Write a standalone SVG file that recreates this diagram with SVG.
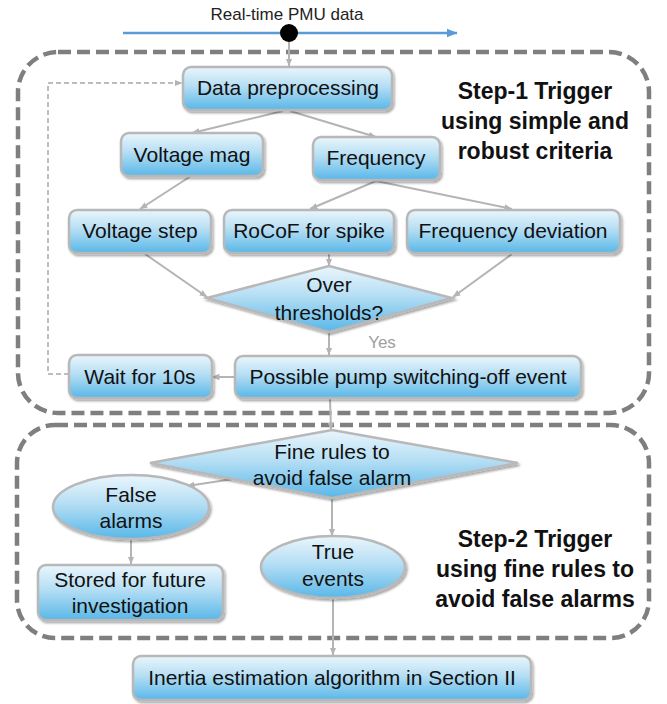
<svg xmlns="http://www.w3.org/2000/svg" width="667" height="704" viewBox="0 0 667 704">
<defs>
<linearGradient id="g" x1="0" y1="0" x2="0" y2="1">
<stop offset="0" stop-color="#eaf6fc"/>
<stop offset="0.45" stop-color="#b5def4"/>
<stop offset="1" stop-color="#58b7e8"/>
</linearGradient>
<filter id="sh" x="-10%" y="-10%" width="125%" height="135%">
<feDropShadow dx="1.5" dy="2" stdDeviation="1.2" flood-color="#000" flood-opacity="0.35"/>
</filter>
<marker id="ah" markerUnits="userSpaceOnUse" markerWidth="8" markerHeight="8" viewBox="0 0 8 8" refX="7.5" refY="4" orient="auto">
<path d="M0,0.8 L8,4 L0,7.2 Z" fill="#b4b4b4"/>
</marker>
<marker id="ab" markerUnits="userSpaceOnUse" markerWidth="11" markerHeight="10" viewBox="0 0 11 10" refX="10.5" refY="5" orient="auto">
<path d="M0,0.5 L11,5 L0,9.5 Z" fill="#5b9bd5"/>
</marker>
<style>
.node{fill:url(#g);stroke:#b8b8b8;stroke-width:2.5;filter:url(#sh)}
.t{font-family:"Liberation Sans",Arial,sans-serif;font-size:21px;fill:#111;text-anchor:middle}
.b{font-family:"Liberation Sans",Arial,sans-serif;font-size:23px;font-weight:bold;fill:#111;text-anchor:middle}
.c{stroke:#b4b4b4;stroke-width:2;fill:none;marker-end:url(#ah)}
.dash{fill:none;stroke:#7f7f7f;stroke-width:4.5;stroke-dasharray:13 6}
</style>
</defs>

<g id="frames">
<rect class="dash" x="18" y="52" width="631" height="361" rx="40"/>
<rect class="dash" x="17" y="425" width="632" height="213" rx="38"/>
</g>

<g id="input">
<text x="287" y="20" font-family="Liberation Sans, Arial, sans-serif" font-size="17" fill="#222" text-anchor="middle">Real-time PMU data</text>
<line x1="123" y1="33" x2="457" y2="33" stroke="#5b9bd5" stroke-width="2.5" marker-end="url(#ab)"/>
<circle cx="289" cy="33" r="9" fill="#000"/>
</g>

<g id="connectors">
<line class="c" x1="289" y1="42" x2="289" y2="66"/>
<line class="c" x1="283" y1="111" x2="192" y2="133"/>
<line class="c" x1="290" y1="111" x2="376" y2="137"/>
<line class="c" x1="191" y1="176" x2="140" y2="209"/>
<line class="c" x1="376" y1="181" x2="310" y2="209"/>
<line class="c" x1="376" y1="181" x2="512" y2="209"/>
<line class="c" x1="145" y1="254" x2="207" y2="297"/>
<line class="c" x1="329" y1="254" x2="329" y2="266"/>
<line class="c" x1="512" y1="254" x2="453" y2="297"/>
<line class="c" x1="329" y1="333" x2="329" y2="355"/>
<line class="c" x1="235" y1="377" x2="212" y2="377"/>
<line class="c" x1="330" y1="399" x2="331" y2="430"/>
<line class="c" x1="240" y1="478" x2="187" y2="486"/>
<line class="c" x1="332" y1="499" x2="332" y2="536"/>
<line class="c" x1="131" y1="540" x2="131" y2="564"/>
<line class="c" x1="333" y1="599" x2="333" y2="655"/>
<polyline points="69,374 48,374 48,83 182,83" fill="none" stroke="#a8a8a8" stroke-width="1.5" stroke-dasharray="5 3" marker-end="url(#ah)"/>
</g>

<g id="n-preproc">
<rect class="node" x="183" y="67" width="209" height="43" rx="8"/>
<text class="t" x="288" y="95">Data preprocessing</text>
</g>
<g id="n-vmag">
<rect class="node" x="121" y="133" width="142" height="43" rx="8"/>
<text class="t" x="192" y="162">Voltage mag</text>
</g>
<g id="n-freq">
<rect class="node" x="313" y="137" width="127" height="43" rx="8"/>
<text class="t" x="376" y="165">Frequency</text>
</g>
<g id="n-vstep">
<rect class="node" x="69" y="210" width="142" height="43" rx="8"/>
<text class="t" x="140" y="238">Voltage step</text>
</g>
<g id="n-rocof">
<rect class="node" x="224" y="210" width="170" height="43" rx="8"/>
<text class="t" x="309" y="238">RoCoF for spike</text>
</g>
<g id="n-fdev">
<rect class="node" x="407" y="210" width="213" height="43" rx="8"/>
<text class="t" x="513" y="238">Frequency deviation</text>
</g>
<g id="n-over">
<polygon class="node" points="207,298 329,266 452,298 329,332"/>
<text class="t" x="329" y="292">Over</text>
<text class="t" x="329" y="320">thresholds?</text>
</g>
<g id="lbl-yes">
<text x="382" y="348" font-family="Liberation Sans, Arial, sans-serif" font-size="17" fill="#a0a0a0" text-anchor="middle">Yes</text>
</g>
<g id="n-wait">
<rect class="node" x="69" y="355" width="143" height="43" rx="8"/>
<text class="t" x="140" y="384">Wait for 10s</text>
</g>
<g id="n-pump">
<rect class="node" x="235" y="356" width="346" height="42" rx="8"/>
<text class="t" x="408" y="384">Possible pump switching-off event</text>
</g>
<g id="step1">
<text class="b" x="535" y="99">Step-1 Trigger</text>
<text class="b" x="535" y="129">using simple and</text>
<text class="b" x="535" y="159">robust criteria</text>
</g>
<g id="n-fine">
<polygon class="node" points="150,463 332,430 518,463 332,498"/>
<text class="t" x="332" y="459">Fine rules to</text>
<text class="t" x="332" y="485">avoid false alarm</text>
</g>
<g id="n-false">
<ellipse class="node" cx="131" cy="507" rx="78" ry="32"/>
<text class="t" x="131" y="502">False</text>
<text class="t" x="131" y="528">alarms</text>
</g>
<g id="n-stored">
<rect class="node" x="38" y="565" width="185" height="55" rx="8"/>
<text class="t" x="130" y="587">Stored for future</text>
<text class="t" x="130" y="613">investigation</text>
</g>
<g id="n-true">
<ellipse class="node" cx="333" cy="567" rx="72" ry="31"/>
<text class="t" x="333" y="559">True</text>
<text class="t" x="333" y="586">events</text>
</g>
<g id="step2">
<text class="b" x="535" y="547">Step-2 Trigger</text>
<text class="b" x="535" y="577">using fine rules to</text>
<text class="b" x="535" y="607">avoid false alarms</text>
</g>
<g id="n-inertia">
<rect class="node" x="133" y="656" width="398" height="44" rx="8"/>
<text class="t" x="332" y="685">Inertia estimation algorithm in Section II</text>
</g>
</svg>
